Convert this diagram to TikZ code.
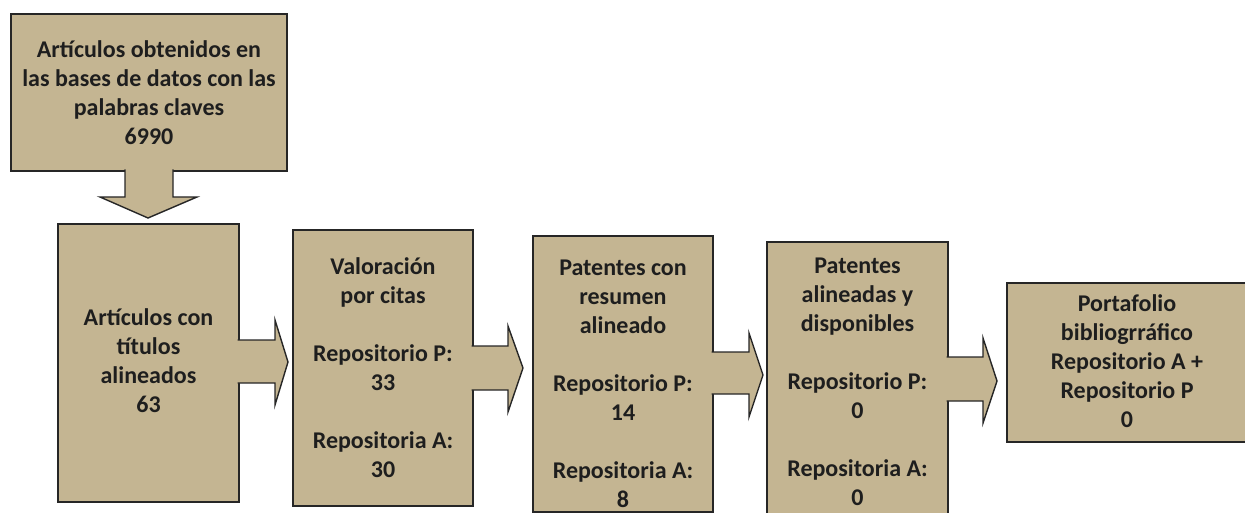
\documentclass[tikz,border=0pt]{standalone}
\usepackage{fontspec}
\setmainfont{Carlito}
\definecolor{boxfill}{HTML}{C4B592}
\definecolor{edge}{HTML}{262626}
\definecolor{ink}{HTML}{1E1E1E}
\begin{document}
\begin{tikzpicture}[x=1pt,y=-1pt,
  box/.style={draw=edge,line width=1.4pt,fill=boxfill,anchor=north west,inner sep=0pt,outer sep=0pt},
  blockarrow/.style={draw=edge,line width=1.4pt,fill=boxfill,line join=miter},
  txt/.style={align=center,font=\bfseries\fontsize{24}{29}\selectfont,text=ink,inner sep=0pt}]
\useasboundingbox (0,0) rectangle (1245,513);
\clip (0,0) rectangle (1245,513);
% boxes
\node[box,minimum width=276pt,minimum height=157pt] (b1) at (11,14) {};
\node[box,minimum width=181pt,minimum height=278pt] (b2) at (58,224) {};
\node[box,minimum width=180pt,minimum height=276pt] (b3) at (293,230) {};
\node[box,minimum width=180pt,minimum height=276pt] (b4) at (533,236) {};
\node[box,minimum width=181pt,minimum height=290pt] (b5) at (767,242) {};
\node[box,minimum width=240pt,minimum height=159pt] (b6) at (1007,283) {};
% block arrows
\path[blockarrow] ([yshift=1.5pt]b1.south -| 125,0) -- (125,197) -- (100,197) -- ([yshift=6pt]b2.north -| 148,0) -- (197,197) -- (173,197) -- ([yshift=1.5pt]b1.south -| 173,0);
\path[blockarrow] ([xshift=-1.5pt]b2.east |- 0,340) -- (275,340) -- (275,320) -- ([xshift=-5pt]b3.west |- 0,362) -- (275,405) -- (275,383) -- ([xshift=-1.5pt]b2.east |- 0,383);
\path[blockarrow] ([xshift=-1.5pt]b3.east |- 0,346) -- (508,346) -- (508,326) -- ([xshift=-10pt]b4.west |- 0,368) -- (508,412) -- (508,390) -- ([xshift=-1.5pt]b3.east |- 0,390);
\path[blockarrow] ([xshift=-1.5pt]b4.east |- 0,352) -- (749,352) -- (749,333) -- ([xshift=-4pt]b5.west |- 0,375) -- (749,417) -- (749,394) -- ([xshift=-1.5pt]b4.east |- 0,394);
\path[blockarrow] ([xshift=-1.5pt]b5.east |- 0,357) -- (983,357) -- (983,338) -- ([xshift=-10pt]b6.west |- 0,381) -- (983,423) -- (983,401) -- ([xshift=-1.5pt]b5.east |- 0,401);
% texts
\node[txt] (t1) at (149,93) {Artículos obtenidos en\\las bases de datos con las\\palabras claves\\6990};
\node[txt] (t2) at (148.5,361) {Artículos con\\títulos\\alineados\\63};
\node[txt] (t3) at (383,368) {Valoración\\por citas\\[29pt]Repositorio P:\\33\\[29pt]Repositoria A:\\30};
\node[txt] (t4) at (623,384) {Patentes con\\resumen\\alineado\\[29pt]Repositorio P:\\14\\[29pt]Repositoria A:\\8};
\node[txt] (t5) at (857.5,382) {Patentes\\alineadas y\\disponibles\\[29pt]Repositorio P:\\0\\[29pt]Repositoria A:\\0};
\node[txt] (t6) at (1127,361) {Portafolio\\bibliogrráfico\\Repositorio A +\\Repositorio P\\0};
\end{tikzpicture}
\end{document}
